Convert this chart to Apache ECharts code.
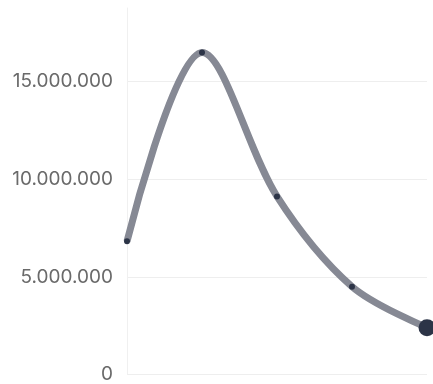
<!DOCTYPE html>
<html>
<head>
<meta charset="utf-8">
<script src="https://cdn.jsdelivr.net/npm/echarts@6/dist/echarts.min.js"></script>
<style>
html,body{margin:0;padding:0;background:#fff;}
#chart{width:433px;height:384px;}
</style>
</head>
<body>
<div id="chart"></div>
<script>
const categories = ['1', '2', '3', '4', '5'];
const values = [6820000, 16490000, 9120000, 4500000, 2400000];
const yTicks = [0, 5000000, 10000000, 15000000];
const yMax = 18770000;

const chart = echarts.init(document.getElementById('chart'), null, {renderer: 'canvas'});

function fmt(v) {
  return String(v).replace(/\B(?=(\d{3})+(?!\d))/g, '.');
}

const lastIdx = values.length - 1;

chart.setOption({
  animation: false,
  backgroundColor: '#ffffff',
  grid: {left: 127, right: 6, top: 8, bottom: 9, containLabel: false},
  xAxis: {
    type: 'category',
    data: categories,
    boundaryGap: false,
    axisLine: {show: false},
    axisTick: {show: false},
    axisLabel: {show: false},
    splitLine: {show: false}
  },
  yAxis: {
    type: 'value',
    min: yTicks[0],
    max: yMax,
    interval: yTicks[1] - yTicks[0],
    axisLine: {show: true, lineStyle: {color: '#f0f0f0', width: 1}},
    axisTick: {show: false},
    axisLabel: {
      color: '#6a6a6a',
      fontFamily: 'Inter',
      fontSize: 19,
      margin: 14,
      showMaxLabel: false,
      formatter: fmt
    },
    splitLine: {show: true, showMaxLine: false, lineStyle: {color: '#eeeeee', width: 1}}
  },
  series: [{
    type: 'line',
    data: values.map((v, i) => ({
      value: v,
      symbolSize: i === lastIdx ? 17 : 6
    })),
    smooth: 0.33,
    symbol: 'circle',
    showAllSymbol: true,
    lineStyle: {color: '#868994', width: 7},
    itemStyle: {color: '#2c3447', borderWidth: 0}
  }]
});
</script>
</body>
</html>
